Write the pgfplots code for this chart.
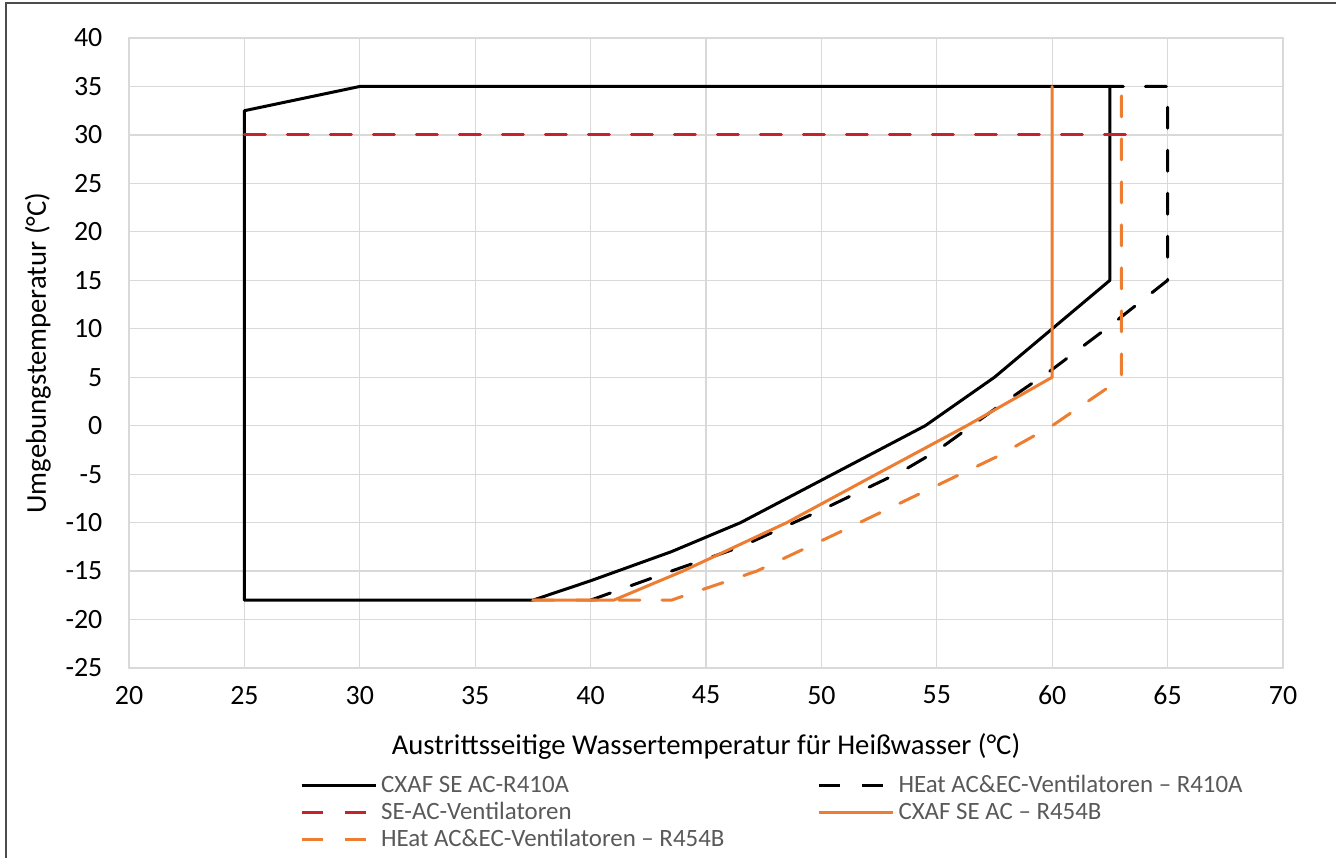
\documentclass[border=0pt]{standalone}
\usepackage{pgfplots}
\pgfplotsset{compat=1.18}
\usepackage{fontspec}
\setmainfont{Carlito}

\definecolor{gridgray}{HTML}{D9D9D9}
\definecolor{legtext}{HTML}{595959}
\definecolor{redline}{HTML}{C5222B}
\definecolor{orangeline}{HTML}{ED7D31}

\begin{document}
\begin{tikzpicture}
  \path[use as bounding box] (0,0) rectangle (668bp,429bp);
  % Rahmen der Grafik (nur links/oben sichtbar)
  \draw[black!70, line width=0.7bp] (3bp,-10bp) -- (3bp,427.5bp) -- (700bp,427.5bp);

  \begin{axis}[
    at={(64.5bp,95bp)}, anchor=south west,
    scale only axis,
    width=577bp, height=315bp,
    xmin=20, xmax=70, ymin=-25, ymax=40,
    xtick distance=5, ytick distance=5,
    grid=major,
    grid style={draw=gridgray, line width=0.6bp},
    axis line style={draw=gridgray, line width=0.6bp},
    major tick length=0pt,
    /pgf/number format/assume math mode=true,
    tick label style={font=\fontsize{14}{16}\selectfont, text=black},
    xticklabel style={yshift=-5.5bp},
    yticklabel style={xshift=-9.8bp},
    every axis x label/.style={at={(axis description cs:0.5,-0.1238)}, anchor=center,
      font=\fontsize{14.4}{17}\selectfont, text=black},
    every axis y label/.style={at={(axis description cs:-0.0789,0.5)}, rotate=90, anchor=center,
      font=\fontsize{14.4}{17}\selectfont, text=black},
    xlabel={Austrittsseitige Wassertemperatur für Heißwasser (°C)},
    ylabel={Umgebungstemperatur (°C)},
    legend columns=2,
    legend cell align=left,
    legend image code/.code={\draw[#1] (0bp,0bp) -- (37bp,0bp);},
    legend style={
      at={(axis description cs:0.148,-0.165)}, anchor=north west,
      draw=none, fill=none, inner sep=0pt,
      font=\fontsize{12.5}{14}\selectfont, text=legtext,
      nodes={inner xsep=0pt, inner ysep=1bp, text height=9bp, text depth=2.5bp},
      row sep=0pt,
      /tikz/every odd column/.append style={column sep=2bp},
      /tikz/every even column/.append style={column sep=46.5bp},
    },
    line cap=round, line join=round,
  ]
    % CXAF SE AC-R410A
    \addplot[black, line width=1.5bp] coordinates {
      (25,-18) (25,32.5) (30,35) (62.5,35) (62.5,15) (57.5,5) (54.5,0)
      (46.5,-10) (43.5,-13) (40,-16) (37.5,-18) (25,-18)
    };
    \addlegendentry{CXAF SE AC-R410A}
    % HEat AC&EC-Ventilatoren - R410A
    \addplot[black, line width=1.5bp, dash pattern=on 10.5bp off 11bp] coordinates {
      (40,-18) (43.5,-15) (46.5,-12.5) (50,-8.7) (53.5,-4.7) (55,-2.6)
      (57.5,1.7) (60,5.8) (62.5,10.3) (65,15) (65,35) (62.5,35)
    };
    \addlegendentry{HEat AC\&EC-Ventilatoren – R410A}
    % SE-AC-Ventilatoren
    \addplot[redline, line width=1.5bp, dash pattern=on 10.5bp off 11bp] coordinates {
      (25,30) (64,30)
    };
    \addlegendentry{SE-AC-Ventilatoren}
    % CXAF SE AC - R454B
    \addplot[orangeline, line width=1.5bp] coordinates {
      (37.5,-18) (41,-18) (44,-15) (48.5,-10) (52,-5.5) (56.3,0) (60,5) (60,35)
    };
    \addlegendentry{CXAF SE AC – R454B}
    % HEat AC&EC-Ventilatoren - R454B
    \addplot[orangeline, line width=1.5bp, dash pattern=on 10.5bp off 11bp] coordinates {
      (37.5,-18) (43.5,-18) (47.2,-15) (50.6,-11.2) (54.1,-7.2) (57.6,-3.2)
      (60,0) (62.4,3.9) (63,5) (63,35)
    };
    \addlegendentry{HEat AC\&EC-Ventilatoren – R454B}
  \end{axis}
\end{tikzpicture}
\end{document}
